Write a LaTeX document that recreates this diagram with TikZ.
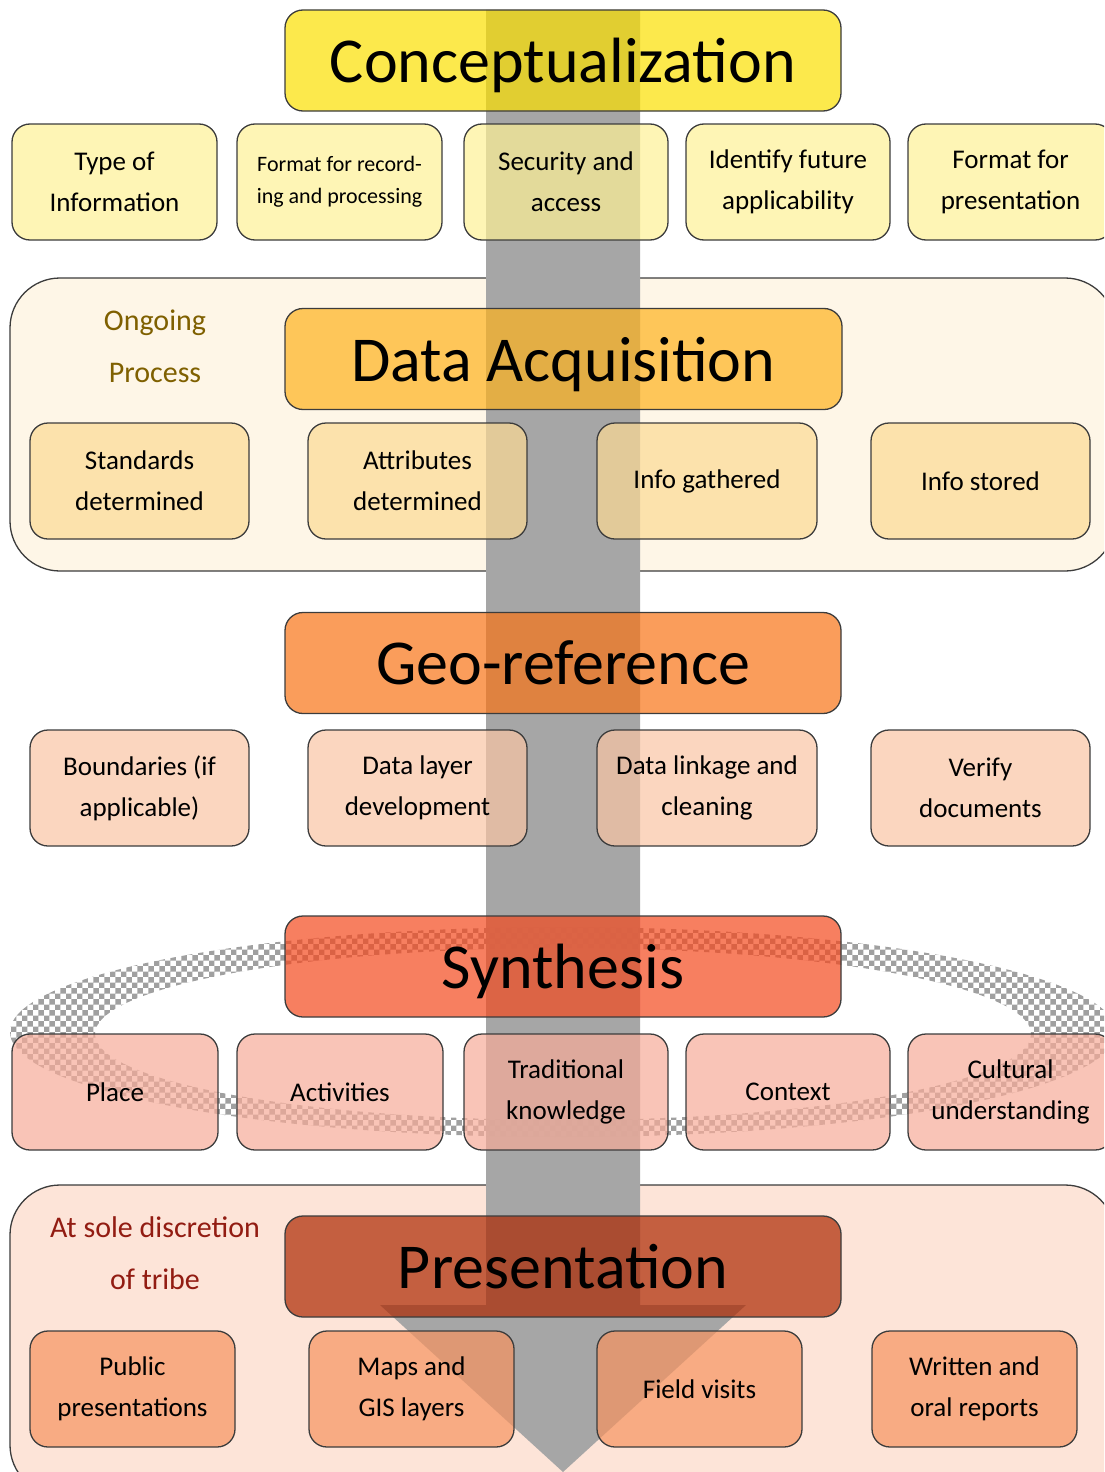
\documentclass[tikz,border=0pt]{standalone}
\usepackage{fontspec}
\setmainfont{Carlito}
\usetikzlibrary{patterns}
\definecolor{bordc}{HTML}{3C3C3C}
\definecolor{arrowc}{HTML}{A6A6A6}
\definecolor{ringc}{HTML}{A0A0A0}
\definecolor{conc}{HTML}{FBE000}
\definecolor{rowa}{HTML}{FEF195}
\definecolor{dacont}{HTML}{FEF6E7}
\definecolor{dabox}{HTML}{FEB21D}
\definecolor{rowb}{HTML}{FCDA94}
\definecolor{geobox}{HTML}{F87415}
\definecolor{rowc}{HTML}{F9C5A4}
\definecolor{synbox}{HTML}{F4481D}
\definecolor{rowd}{HTML}{F6AB98}
\definecolor{prescont}{HTML}{FDE4D8}
\definecolor{presbox}{HTML}{AC2700}
\definecolor{rowe}{HTML}{F6935F}
\definecolor{ongc}{HTML}{7F6000}
\definecolor{solec}{HTML}{921C12}
\begin{document}
\begin{tikzpicture}[x=1pt,y=-1pt,
  cont/.style={draw=bordc, line width=1.3, rounded corners=50, inner sep=0},
  box/.style={draw=bordc, line width=1.3, rounded corners=18, fill opacity=0.7, text opacity=1,
    align=center, inner sep=0, minimum height=116, font=\fontsize{27}{41}\selectfont},
  title/.style={draw=bordc, line width=1.3, rounded corners=18, fill opacity=0.7, text opacity=1,
    align=center, inner sep=0, text depth=0pt, minimum width=556, minimum height=101, font=\fontsize{64}{70}\selectfont},
  side/.style={align=center, inner sep=0, font=\fontsize{30}{52}\selectfont}]
\useasboundingbox (0,0) rectangle (1104,1472);
\clip (0,0) rectangle (1104,1472);
% containers
\node[cont, fill=dacont, minimum width=1105, minimum height=293] (dac) at (562.5,424.5) {};
\node[cont, fill=prescont, minimum width=1105, minimum height=310] (prc) at (562.5,1340) {};
% big arrow
\fill[arrowc] (486,10) -- (640,10) -- (640,1305) -- (746,1305) -- (563,1472) -- (380,1305) -- (486,1305) -- cycle;
% synthesis ring
\fill[pattern=checkerboard, pattern color=ringc, even odd rule]
  (563,1032) ellipse [x radius=553, y radius=105]
  (563,1034) ellipse [x radius=468, y radius=86];
% Conceptualization
\node[title, fill=conc] (concept) at (563,60.5) {Conceptualization};
\node[box, fill=rowa, minimum width=205] (a1) at (114.5,182) {Type of\\Information};
\node[box, fill=rowa, minimum width=205, font=\fontsize{22}{32}\selectfont] (a2) at (339.5,182) {Format for record-\\ing and processing};
\node[box, fill=rowa, minimum width=204] (a3) at (566,182) {Security and\\access};
\node[box, fill=rowa, minimum width=204] (a4) at (788,182) {Identify future\\applicability};
\node[box, fill=rowa, minimum width=205] (a5) at (1010.5,182) {Format for\\presentation};
% Data acquisition
\node[side, text=ongc] (ongoing) at (155,346) {Ongoing\\Process};
\node[title, fill=dabox, minimum width=557] (dacq) at (563.5,359) {Data Acquisition};
\node[box, fill=rowb, minimum width=219] (b1) at (139.5,481) {Standards\\determined};
\node[box, fill=rowb, minimum width=219] (b2) at (417.5,481) {Attributes\\determined};
\node[box, fill=rowb, minimum width=220] (b3) at (707,481) {Info gathered};
\node[box, fill=rowb, minimum width=219] (b4) at (980.5,481) {Info stored};
% Geo-reference
\node[title, fill=geobox] (geo) at (563,663) {Geo-reference};
\node[box, fill=rowc, minimum width=219] (c1) at (139.5,788) {Boundaries (if\\applicable)};
\node[box, fill=rowc, minimum width=219] (c2) at (417.5,788) {Data layer\\development};
\node[box, fill=rowc, minimum width=220] (c3) at (707,788) {Data linkage and\\cleaning};
\node[box, fill=rowc, minimum width=219] (c4) at (980.5,788) {Verify\\documents};
% Synthesis
\node[title, fill=synbox] (syn) at (563,966.5) {Synthesis};
\node[box, fill=rowd, minimum width=206] (d1) at (115,1092) {Place};
\node[box, fill=rowd, minimum width=206] (d2) at (340,1092) {Activities};
\node[box, fill=rowd, minimum width=204] (d3) at (566,1092) {Traditional\\knowledge};
\node[box, fill=rowd, minimum width=204] (d4) at (788,1092) {Context};
\node[box, fill=rowd, minimum width=205] (d5) at (1010.5,1092) {Cultural\\understanding};
% Presentation
\node[side, text=solec] (sole) at (155,1253) {At sole discretion\\of tribe};
\node[title, fill=presbox] (pres) at (563,1266.5) {Presentation};
\node[box, fill=rowe, minimum width=205] (e1) at (132.5,1389) {Public\\presentations};
\node[box, fill=rowe, minimum width=205] (e2) at (411.5,1389) {Maps and\\GIS layers};
\node[box, fill=rowe, minimum width=205] (e3) at (699.5,1389) {Field visits};
\node[box, fill=rowe, minimum width=205] (e4) at (974.5,1389) {Written and\\oral reports};
\end{tikzpicture}
\end{document}
